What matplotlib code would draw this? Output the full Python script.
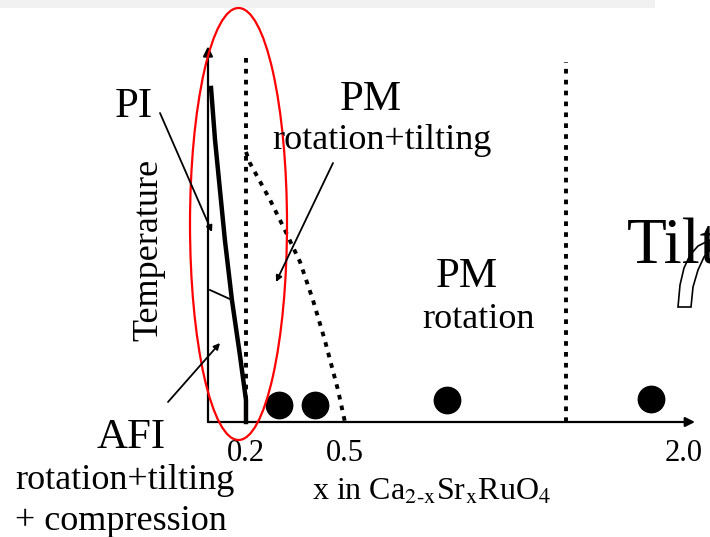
"""Schematic phase diagram of Ca2-xSrxRuO4 (temperature vs Sr content x)"""
import numpy as np
import matplotlib
matplotlib.use("Agg")
import matplotlib.pyplot as plt
from matplotlib.scale import FuncScale
from matplotlib.patches import Ellipse, Polygon, Rectangle

plt.rcParams['font.family'] = ['Liberation Serif', 'DejaVu Serif']
plt.rcParams['mathtext.fontset'] = 'stix'

# piecewise-linear composition axis (schematic, not to scale)
comp_ref = [-0.2, 0.0, 0.2, 0.5, 2.0, 2.2]
span_ref = [-38.0, 0.0, 38.0, 137.0, 476.0, 521.0]

# PI / AFI boundary (solid)
pi_afi_x = [0.016, 0.037, 0.089, 0.126, 0.168, 0.200, 0.200]
pi_afi_t = [89.8, 75.8, 48.9, 32.8, 18.0, 5.9, 0.0]

# PM rotation+tilting / rotation boundary (dotted)
tilt_x = [0.200, 0.212, 0.273, 0.318, 0.364, 0.403, 0.439, 0.479, 0.500]
tilt_t = [72.6, 69.6, 59.7, 51.6, 43.0, 32.8, 22.0, 8.6, 0.0]

# vertical structural boundaries (dotted)
bound_x = [0.2, 1.48]
bound_top = [97.8, 96.8]

# measured samples
sample_x = [0.300, 0.409, 0.951, 1.854]
sample_t = [4.6, 4.6, 5.9, 6.2]

tick_pos = [0.2, 0.5, 2.0]
tick_lab = ["0.2", "0.5", "2.0"]


def fwd(x):
    return np.interp(x, comp_ref, span_ref)


def inv(u):
    return np.interp(u, span_ref, comp_ref)


def plot_phase_diagram():
    """Draws the schematic phase diagram"""
    W, H = 710, 537
    fig = plt.figure(figsize=(W / 100, H / 100), dpi=100)

    # main diagram axes, placed in pixels
    x0, x1, y0, y1 = 208, 695, 422, 50
    ax = fig.add_axes([x0 / W, (H - y0) / H, (x1 - x0) / W, (y0 - y1) / H])
    ax.set_xscale(FuncScale(ax.xaxis, (fwd, inv)))
    ax.set_xlim(0, 2.05)
    ax.set_ylim(0, 100)
    for s in ax.spines.values():
        s.set_visible(False)
    ax.set_yticks([])
    ax.set_xticks(tick_pos)
    ax.set_xticklabels(tick_lab)
    ax.tick_params(axis='x', length=0, pad=12, labelsize=22)

    # axes with arrows
    arrow = dict(arrowstyle='-|>', lw=1.6, color='black', mutation_scale=14,
                 shrinkA=0, shrinkB=0)
    ax.annotate('', xy=(1, 0), xytext=(0, 0), xycoords='axes fraction',
                arrowprops=arrow, annotation_clip=False)
    ax.annotate('', xy=(0, 1.01), xytext=(0, 0), xycoords='axes fraction',
                arrowprops=arrow, annotation_clip=False)

    ax.plot(pi_afi_x, pi_afi_t, color='black', lw=3.2, clip_on=False)
    ax.plot(tilt_x, tilt_t, color='black', lw=2.8, ls=(0, (1.2, 1.6)),
            clip_on=False)
    for bx, bt in zip(bound_x, bound_top):
        ax.plot([bx, bx], [0, bt], color='black', lw=2.8, ls=(0, (1.2, 1.6)),
                clip_on=False)
    ax.plot(sample_x, sample_t, 'o', color='black', ms=19, clip_on=False)

    # overlay in pixel units for labels and pointers
    ov = fig.add_axes([0, 0, 1, 1], facecolor='none')
    ov.set_xlim(0, W)
    ov.set_ylim(H, 0)
    ov.axis('off')

    ov.add_patch(Rectangle((0, 0), 655, 8, color='#f1f1f1', lw=0))

    big = 31
    small = 26
    ov.text(134, 117, "PI", fontsize=big, ha='center', va='baseline')
    ov.text(371, 110, "PM", fontsize=big, ha='center', va='baseline')
    ov.text(272, 149, "rotation+tilting", fontsize=small, ha='left',
            va='baseline')
    ov.text(149, 250, "Temperature", fontsize=small, rotation=90,
            ha='center', va='center')
    ov.text(467, 287, "PM", fontsize=big, ha='center', va='baseline')
    ov.text(478, 328, "rotation", fontsize=small, ha='center', va='baseline')
    ov.text(131, 448, "AFI", fontsize=big, ha='center', va='baseline')
    ov.text(15, 489, "rotation+tilting", fontsize=small, ha='left',
            va='baseline')
    ov.text(15, 530, "+ compression", fontsize=small, ha='left',
            va='baseline')
    ov.text(432, 500,
            r"x in Ca$_{\rm 2\text{-}x}$Sr$_{\rm x}$RuO$_{\rm 4}$",
            fontsize=23, ha='center', va='baseline')

    ptr = dict(arrowstyle='-|>', lw=1.3, color='black', mutation_scale=9,
               shrinkA=0, shrinkB=0)
    ov.annotate('', xy=(212, 232), xytext=(160, 113), arrowprops=ptr)
    ov.annotate('', xy=(220, 343), xytext=(168, 402), arrowprops=ptr)
    ov.annotate('', xy=(276, 282), xytext=(333, 163), arrowprops=ptr)
    ov.plot([210, 232], [290, 300], color='black', lw=1.3)

    # large heading running off the right edge
    ov.text(627, 263, "Tilt", fontsize=47, ha='left', va='baseline',
            clip_on=False)
    ov.add_patch(Polygon([(678, 307), (680, 285), (684, 268), (690, 255),
                          (698, 246), (710, 240), (710, 250), (704, 257),
                          (698, 270), (693, 287), (691, 307)],
                         closed=True, fill=False, ec='black', lw=1.2))

    ov.add_patch(Ellipse((238.5, 224), 97, 432, fill=False, ec='red', lw=1.6))

    fig.savefig("out.png", dpi=100)


if __name__ == "__main__":
    plot_phase_diagram()
